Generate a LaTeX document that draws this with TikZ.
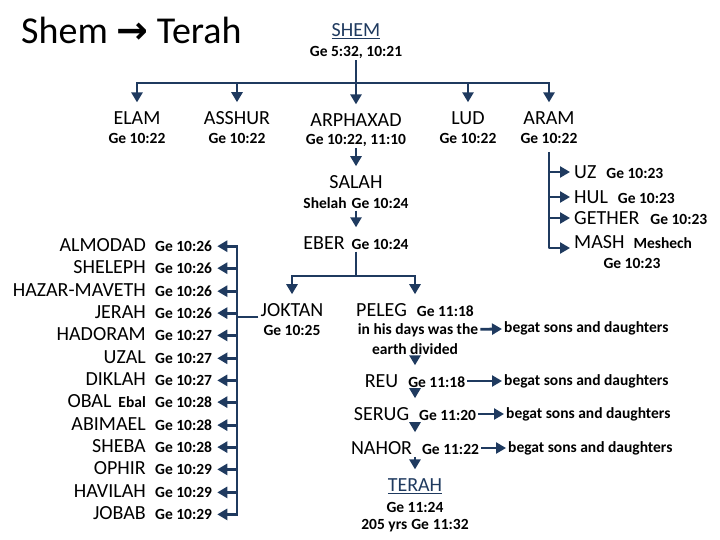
\documentclass[tikz,border=0pt]{standalone}
\usepackage{fontspec}
\setmainfont{Carlito}
\newfontfamily\symfont{DejaVu Sans}
\usepackage{xcolor}
\usetikzlibrary{arrows.meta}
\definecolor{navy}{HTML}{1F3A5F}
\newcommand{\namefont}{\fontsize{20}{23}\selectfont}
\newcommand{\reffont}{\fontsize{15.5}{18}\selectfont\bfseries}

\begin{document}
\begin{tikzpicture}[x=1pt, y=-1pt, >={Triangle[length=10pt,width=11pt]}, line join=round,
  nm/.style={font=\namefont, inner sep=2pt},
  rf/.style={font=\reffont, inner sep=2pt},
  ln/.style={draw=navy, line width=2.8pt},
  ar/.style={ln, ->},
  ard/.style={ar, shorten >=7pt}]
  \useasboundingbox (0,0) rectangle (720,540);
  % title and root
  \node[anchor=west, inner sep=0pt, font=\fontsize{38}{44}\selectfont] (title) at (21,30) {Shem {\symfont\bfseries →} Terah};
  \node[nm, text=navy] (shem) at (356,31) {\underline{SHEM}};
  \node[rf] (shemref) at (356,52) {Ge 5:32, 10:21};
  \coordinate (bus) at (356,83);
  % sons of Shem
  \node[nm] (elam) at (137,118) {ELAM};
  \node[rf] (elamref) at (137,138) {Ge 10:22};
  \node[nm] (asshur) at (237,118) {ASSHUR};
  \node[rf] (asshurref) at (237,138) {Ge 10:22};
  \node[nm] (arphaxad) at (356,120) {ARPHAXAD};
  \node[rf] (arphaxadref) at (356,140) {Ge 10:22, 11:10};
  \node[nm] (lud) at (468,118) {LUD};
  \node[rf] (ludref) at (468,138) {Ge 10:22};
  \node[nm] (aram) at (549,118) {ARAM};
  \node[rf] (aramref) at (549,138) {Ge 10:22};
  \draw[ln, line cap=rect] (elam |- bus) -- (aram |- bus);
  \draw[ard] (shemref) -- (arphaxad);
  \draw[ard] (elam |- bus) -- (elam);
  \draw[ard] (asshur |- bus) -- (asshur);
  \draw[ard] (lud |- bus) -- (lud);
  \draw[ard] (aram |- bus) -- (aram);
  % sons of Aram
  \coordinate (aramtop) at (549,152);
  \node[nm, anchor=west] (uz) at (572,172) {UZ\hspace{10pt}{\reffont Ge 10:23}};
  \node[nm, anchor=west] (hul) at (572,197) {HUL\hspace{10pt}{\reffont Ge 10:23}};
  \node[nm, anchor=west] (gether) at (572,218) {GETHER\hspace{11pt}{\reffont Ge 10:23}};
  \node[nm, anchor=west] (mash) at (572,242) {MASH\hspace{9pt}{\reffont Meshech}};
  \node[rf] (mashref) at (632,263) {Ge 10:23};
  \draw[ar, shorten >=2pt] (aramtop) |- ([yshift=-6pt]mash.west);
  \draw[ar, shorten >=2pt] (aramtop |- uz.west) -- (uz.west);
  \draw[ar, shorten >=2pt] (aramtop |- hul.west) -- (hul.west);
  \draw[ar, shorten >=2pt] (aramtop |- gether.west) -- (gether.west);
  % Salah and Eber
  \node[nm] (salah) at (356,182) {SALAH};
  \node[rf] (salahref) at (356,203) {Shelah\hspace{5pt}Ge 10:24};
  \node[nm] (eber) at (356,243) {EBER\hspace{7pt}{\reffont Ge 10:24}};
  \draw[ard] (arphaxadref) -- (salah);
  \draw[ard] (salahref) -- (eber);
  \coordinate (ebus) at (356,276);
  \node[nm] (joktan) at (292,310) {JOKTAN};
  \node[rf] (joktanref) at (292,330) {Ge 10:25};
  \node[nm] (peleg) at (415,310) {PELEG\hspace{10pt}{\reffont Ge 11:18}};
  \draw[ln] (eber) -- (ebus);
  \draw[ln, line cap=rect] (joktan |- ebus) -- (peleg |- ebus);
  \draw[ard] (joktan |- ebus) -- (joktan);
  \draw[ard] (peleg |- ebus) -- (peleg);
  % line of Peleg
  \node[rf] (note1) at (418,330) {in his days was the};
  \node[rf] (note2) at (415,349) {earth divided};
  \node[nm] (reu) at (415,381) {REU\hspace{10pt}{\reffont Ge 11:18}};
  \node[nm] (serug) at (415,414) {SERUG\hspace{10pt}{\reffont Ge 11:20}};
  \node[nm] (nahor) at (415,448) {NAHOR\hspace{10pt}{\reffont Ge 11:22}};
  \node[nm, text=navy] (terah) at (415,486) {\underline{TERAH}};
  \node[rf] (terahref) at (415,507) {Ge 11:24};
  \node[rf] (terahage) at (415,526) {205 yrs\hspace{4pt}Ge\hspace{4pt}11:32};
  \draw[ard] (note2) -- (reu);
  \draw[ard] (reu) -- (serug);
  \draw[ard] (serug) -- (nahor);
  \draw[ard] (nahor) -- (terah);
  \node[rf, anchor=west] (begat1) at (502,328) {begat sons and daughters};
  \node[rf, anchor=west] (begat2) at (502,381) {begat sons and daughters};
  \node[rf, anchor=west] (begat3) at (504,414) {begat sons and daughters};
  \node[rf, anchor=west] (begat4) at (506,448) {begat sons and daughters};
  \draw[ar] (note1) -- (begat1);
  \draw[ar] (reu) -- (begat2);
  \draw[ar] (serug) -- (begat3);
  \draw[ar] (nahor) -- (begat4);
  % sons of Joktan
  \node[nm, anchor=east] (almodad) at (148,245) {ALMODAD};
  \node[nm, anchor=east] (sheleph) at (148,267) {SHELEPH};
  \node[nm, anchor=east] (hazar) at (148,290) {HAZAR-MAVETH};
  \node[nm, anchor=east] (jerah) at (148,312) {JERAH};
  \node[nm, anchor=east] (hadoram) at (148,334) {HADORAM};
  \node[nm, anchor=east] (uzal) at (148,357) {UZAL};
  \node[nm, anchor=east] (diklah) at (148,379) {DIKLAH};
  \node[nm, anchor=east] (obal) at (148,401) {OBAL\hspace{7pt}{\reffont Ebal}};
  \node[nm, anchor=east] (abimael) at (148,424) {ABIMAEL};
  \node[nm, anchor=east] (sheba) at (148,446) {SHEBA};
  \node[nm, anchor=east] (ophir) at (148,468) {OPHIR};
  \node[nm, anchor=east] (havilah) at (148,491) {HAVILAH};
  \node[nm, anchor=east] (jobab) at (148,513) {JOBAB};
  \node[rf, anchor=base west] (almodadref) at ([xshift=5pt]almodad.base east) {Ge 10:26};
  \node[rf, anchor=base west] (shelephref) at ([xshift=5pt]sheleph.base east) {Ge 10:26};
  \node[rf, anchor=base west] (hazarref) at ([xshift=5pt]hazar.base east) {Ge 10:26};
  \node[rf, anchor=base west] (jerahref) at ([xshift=5pt]jerah.base east) {Ge 10:26};
  \node[rf, anchor=base west] (hadoramref) at ([xshift=5pt]hadoram.base east) {Ge 10:27};
  \node[rf, anchor=base west] (uzalref) at ([xshift=5pt]uzal.base east) {Ge 10:27};
  \node[rf, anchor=base west] (diklahref) at ([xshift=5pt]diklah.base east) {Ge 10:27};
  \node[rf, anchor=base west] (obalref) at ([xshift=5pt]obal.base east) {Ge 10:28};
  \node[rf, anchor=base west] (abimaelref) at ([xshift=5pt]abimael.base east) {Ge 10:28};
  \node[rf, anchor=base west] (shebaref) at ([xshift=5pt]sheba.base east) {Ge 10:28};
  \node[rf, anchor=base west] (ophirref) at ([xshift=5pt]ophir.base east) {Ge 10:29};
  \node[rf, anchor=base west] (havilahref) at ([xshift=5pt]havilah.base east) {Ge 10:29};
  \node[rf, anchor=base west] (jobabref) at ([xshift=5pt]jobab.base east) {Ge 10:29};
  \coordinate (jtrunk) at (237,317);
  \draw[ln] (joktan.west |- jtrunk) -- (jtrunk);
  \draw[ln, line cap=rect] (jtrunk |- almodadref.east) -- (jtrunk |- jobabref.east);
  \draw[ar, shorten >=3pt] (jtrunk |- almodadref.east) -- (almodadref.east);
  \draw[ar, shorten >=3pt] (jtrunk |- shelephref.east) -- (shelephref.east);
  \draw[ar, shorten >=3pt] (jtrunk |- hazarref.east) -- (hazarref.east);
  \draw[ar, shorten >=3pt] (jtrunk |- jerahref.east) -- (jerahref.east);
  \draw[ar, shorten >=3pt] (jtrunk |- hadoramref.east) -- (hadoramref.east);
  \draw[ar, shorten >=3pt] (jtrunk |- uzalref.east) -- (uzalref.east);
  \draw[ar, shorten >=3pt] (jtrunk |- diklahref.east) -- (diklahref.east);
  \draw[ar, shorten >=3pt] (jtrunk |- obalref.east) -- (obalref.east);
  \draw[ar, shorten >=3pt] (jtrunk |- abimaelref.east) -- (abimaelref.east);
  \draw[ar, shorten >=3pt] (jtrunk |- shebaref.east) -- (shebaref.east);
  \draw[ar, shorten >=3pt] (jtrunk |- ophirref.east) -- (ophirref.east);
  \draw[ar, shorten >=3pt] (jtrunk |- havilahref.east) -- (havilahref.east);
  \draw[ar, shorten >=3pt] (jtrunk |- jobabref.east) -- (jobabref.east);
\end{tikzpicture}
\end{document}
